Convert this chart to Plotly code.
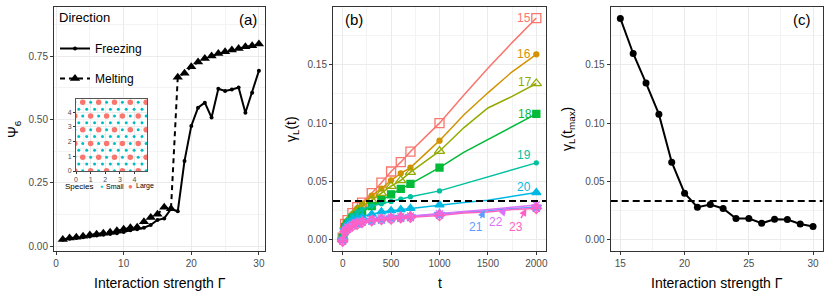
import plotly.graph_objects as go

W, H = 830, 297
FONT = "Liberation Sans, Arial, sans-serif"

# ---------------- Panel (a) data ----------------
gamma_a = list(range(1, 31))
psi_freezing = [0.025, 0.029, 0.032, 0.035, 0.038, 0.041, 0.044, 0.047, 0.050, 0.055,
                0.062, 0.066, 0.072, 0.083, 0.103, 0.109, 0.146, 0.137, 0.336, 0.474,
                0.546, 0.566, 0.507, 0.621, 0.612, 0.618, 0.626, 0.526, 0.605, 0.692]
psi_melting = [0.026, 0.032, 0.035, 0.039, 0.043, 0.046, 0.050, 0.054, 0.060, 0.066,
               0.072, 0.074, 0.096, 0.113, 0.125, 0.153, 0.147, 0.666, 0.682, 0.708,
               0.726, 0.740, 0.750, 0.760, 0.767, 0.774, 0.780, 0.787, 0.791, 0.797]

# inset particle configuration (rows read top to bottom)
inset_row_y = [4.68, 4.21, 3.75, 3.28, 2.81, 2.35, 1.88, 1.41, 0.94, 0.48, 0.01]
inset_even_x = [-0.08, 0.46, 1.00, 1.55, 2.09, 2.63, 3.17, 3.71, 4.25, 4.79]
inset_odd_x = [0.19, 0.73, 1.27, 1.81, 2.35, 2.89, 3.43, 3.97, 4.51]
inset_rows = ["SLSLSLSLSL", "SSSSSSSSS", "LSLSLSLSLS", "SSSSSSSSS",
              "SLSLSLSLSL", "SSSSSSSSS", "LSLSLSLSLS", "SSSSSSSSS",
              "SLSLSLSLSL", "SSSSSSSSS", "LSLSLSLSLS"]

# ---------------- Panel (b) data ----------------
t_vals = [0, 25, 50, 100, 150, 200, 300, 400, 500, 600, 700, 1000, 1250, 1500, 1750, 2000]
t_marks = [0, 25, 50, 100, 150, 200, 300, 400, 500, 600, 700, 1000, 2000]
series_gamma = [15, 16, 17, 18, 19, 20, 21, 22, 23]
gL = {
    15: [0.002, 0.0137, 0.017, 0.023, 0.028, 0.032, 0.040, 0.049, 0.0586, 0.0666, 0.0757, 0.100, 0.124, 0.147, 0.169, 0.190],
    16: [0.002, 0.013, 0.016, 0.022, 0.027, 0.031, 0.038, 0.044, 0.051, 0.057, 0.062, 0.085, 0.107, 0.126, 0.144, 0.159],
    17: [0.002, 0.012, 0.016, 0.021, 0.026, 0.029, 0.034, 0.040, 0.046, 0.051, 0.058, 0.076, 0.096, 0.113, 0.123, 0.134],
    18: [0.002, 0.011, 0.014, 0.019, 0.021, 0.024, 0.029, 0.034, 0.039, 0.0437, 0.048, 0.062, 0.075, 0.086, 0.097, 0.108],
    19: [0.002, 0.013, 0.017, 0.021, 0.024, 0.026, 0.029, 0.031, 0.033, 0.035, 0.037, 0.042, 0.048, 0.054, 0.060, 0.066],
    20: [0.002, 0.011, 0.0137, 0.017, 0.0186, 0.020, 0.022, 0.024, 0.025, 0.026, 0.027, 0.030, 0.032, 0.034, 0.037, 0.0406],
    21: [0.000, 0.008, 0.010, 0.013, 0.0145, 0.016, 0.017, 0.018, 0.019, 0.0195, 0.020, 0.022, 0.024, 0.025, 0.027, 0.028],
    22: [0.000, 0.008, 0.011, 0.0135, 0.015, 0.016, 0.0175, 0.0185, 0.0195, 0.020, 0.0205, 0.0225, 0.024, 0.026, 0.028, 0.030],
    23: [-0.001, 0.007, 0.009, 0.012, 0.0135, 0.015, 0.0165, 0.0175, 0.018, 0.019, 0.0195, 0.021, 0.023, 0.024, 0.026, 0.027],
}
series_colors = ["#F8766D", "#D39200", "#93AA00", "#00BA38", "#00C19F",
                 "#00B9E3", "#619CFF", "#DB72FB", "#FF61C3"]
series_symbols = ["square-open", "circle", "triangle-up-open", "square", "circle",
                  "triangle-up", "star", "asterisk-open", "diamond-cross-open"]
series_msize = [9, 5, 9, 7, 4, 8, 8, 8, 8]
threshold = 0.0334

# label positions for panel (b) (t, value)
label_pos = {15: (1875, 0.190), 16: (1875, 0.159), 17: (1880, 0.135), 18: (1880, 0.108),
             19: (1870, 0.073), 20: (1870, 0.0457)}
arrow_label = {21: (1381, 0.0114, 1467, 0.0257), 22: (1580, 0.0157, 1690, 0.027),
               23: (1794, 0.0114, 1897, 0.027)}

# ---------------- Panel (c) data ----------------
gamma_c = list(range(15, 31))
gL_tmax = [0.1897, 0.1597, 0.1343, 0.1077, 0.0666, 0.0400, 0.0280, 0.0303,
           0.0269, 0.0183, 0.0183, 0.0143, 0.0177, 0.0174, 0.0137, 0.0114]

# ---------------- figure ----------------
fig = go.Figure()

# panel a
fig.add_trace(go.Scatter(x=gamma_a, y=psi_freezing, mode="lines+markers", name="Freezing",
                         line=dict(color="black", width=2), marker=dict(size=4, color="black"),
                         xaxis="x", yaxis="y", legendgroup="f"))
fig.add_trace(go.Scatter(x=gamma_a, y=psi_melting, mode="lines+markers", name="Melting",
                         line=dict(color="black", width=2, dash="5px,4px"),
                         marker=dict(size=9, color="black", symbol="triangle-up"),
                         xaxis="x", yaxis="y", legendgroup="m"))

# inset
sx, sy, lx, ly = [], [], [], []
for yv, row in zip(inset_row_y, inset_rows):
    xs = inset_even_x if len(row) == len(inset_even_x) else inset_odd_x
    for xv, k in zip(xs, row):
        if k == "L":
            lx.append(xv); ly.append(yv)
        else:
            sx.append(xv); sy.append(yv)
fig.add_trace(go.Scatter(x=sx, y=sy, mode="markers", marker=dict(size=3, color="#00BFC4"),
                         xaxis="x4", yaxis="y4", showlegend=False))
fig.add_trace(go.Scatter(x=lx, y=ly, mode="markers", marker=dict(size=5.5, color="#F8766D"),
                         xaxis="x4", yaxis="y4", showlegend=False))

# panel b
mark_idx = [i for i, t in enumerate(t_vals) if t in t_marks]
for g, c, s, ms in zip(series_gamma, series_colors, series_symbols, series_msize):
    fig.add_trace(go.Scatter(x=t_vals, y=gL[g], mode="lines", line=dict(color=c, width=1.5),
                             xaxis="x2", yaxis="y2", showlegend=False))
    fig.add_trace(go.Scatter(x=[t_vals[i] for i in mark_idx], y=[gL[g][i] for i in mark_idx],
                             mode="markers",
                             marker=dict(symbol=s, size=ms, color=c, line=dict(color=c, width=1.3)),
                             xaxis="x2", yaxis="y2", showlegend=False))
fig.add_trace(go.Scatter(x=[-100, 2100], y=[threshold, threshold], mode="lines",
                         line=dict(color="black", width=2, dash="7px,4px"),
                         xaxis="x2", yaxis="y2", showlegend=False))

# panel c
fig.add_trace(go.Scatter(x=gamma_c, y=gL_tmax, mode="lines+markers",
                         line=dict(color="black", width=2), marker=dict(size=7, color="black"),
                         xaxis="x3", yaxis="y3", showlegend=False))
fig.add_trace(go.Scatter(x=[14.25, 30.75], y=[threshold, threshold], mode="lines",
                         line=dict(color="black", width=2, dash="7px,4px"),
                         xaxis="x3", yaxis="y3", showlegend=False))

ybot, ytop = 1 - 251 / H, 1 - 7 / H
GRID = "#EBEBEB"
TICKF = dict(family=FONT, size=10, color="#4D4D4D")


def ax(domain, rng, tickvals, minor_vals, anchor, ticktext=None, **kw):
    d = dict(domain=domain, range=rng, tickvals=tickvals, anchor=anchor, automargin=False,
             showgrid=True, gridcolor=GRID, gridwidth=1,
             minor=dict(tickvals=minor_vals, showgrid=True, gridcolor="#F3F3F3", gridwidth=0.6,
                        ticks=""),
             showline=True, mirror=True, linecolor="#333333", linewidth=1,
             ticks="outside", ticklen=3, tickcolor="#333333", tickwidth=1,
             tickfont=TICKF, zeroline=False, fixedrange=True)
    if ticktext is not None:
        d["ticktext"] = ticktext
    d.update(kw)
    return d


layout = dict(
    width=W, height=H, margin=dict(l=0, r=0, t=0, b=0, autoexpand=False),
    paper_bgcolor="white", plot_bgcolor="white",
    font=dict(family=FONT, color="black"),
    xaxis=ax([54 / W, 265 / W], [-0.3, 30.9], [0, 10, 20, 30], [5, 15, 25], "y"),
    yaxis=ax([ybot, ytop], [-0.0197, 0.9435], [0, 0.25, 0.5, 0.75], [0.125, 0.375, 0.625, 0.875],
             "x", ticktext=["0.00", "0.25", "0.50", "0.75"]),
    xaxis2=ax([333 / W, 546 / W], [-100, 2100], [0, 500, 1000, 1500, 2000],
              [250, 750, 1250, 1750], "y2"),
    yaxis2=ax([ybot, ytop], [-0.0095, 0.1995], [0, 0.05, 0.1, 0.15], [0.025, 0.075, 0.125, 0.175],
              "x2", ticktext=["0.00", "0.05", "0.10", "0.15"]),
    xaxis3=ax([610.7 / W, 822.7 / W], [14.25, 30.75], [15, 20, 25, 30], [17.5, 22.5, 27.5], "y3"),
    yaxis3=ax([ybot, ytop], [-0.0095, 0.1995], [0, 0.05, 0.1, 0.15], [0.025, 0.075, 0.125, 0.175],
              "x3", ticktext=["0.00", "0.05", "0.10", "0.15"]),
    xaxis4=ax([76 / W, 147 / W], [0, 4.85], [0, 1, 2, 3, 4], [0.5, 1.5, 2.5, 3.5, 4.5], "y4",
              tickfont=dict(family=FONT, size=7, color="#4D4D4D"), ticklen=2, linecolor="#555555"),
    yaxis4=ax([1 - 171 / H, 1 - 99 / H], [0, 4.9], [0, 1, 2, 3, 4], [0.5, 1.5, 2.5, 3.5, 4.5], "x4",
              tickfont=dict(family=FONT, size=7, color="#4D4D4D"), ticklen=2, linecolor="#555555"),
    showlegend=True,
    legend=dict(x=55 / W, y=1 - 34 / H, xanchor="left", yanchor="top",
                bgcolor="rgba(0,0,0,0)", tracegroupgap=11,
                font=dict(family=FONT, size=12, color="black"), itemwidth=30),
)
fig.update_layout(**layout)

ann = []


def A(text, x, y, size, color="black", xanchor="center", **kw):
    d = dict(text=text, x=x, y=y, xref="paper", yref="paper", xanchor=xanchor, yanchor="middle",
             showarrow=False, font=dict(size=size, family=FONT, color=color))
    d.update(kw)
    return d


# legend title
ann.append(A("Direction", 57 / W, 1 - 18 / H, 13, xanchor="left"))
# panel tags
for txt, xp in [("(a)", 248), ("(b)", 354), ("(c)", 802)]:
    ann.append(A(txt, xp / W, 1 - 19 / H, 15))
# axis titles
for txt, xp in [("Interaction strength Γ", 160), ("t", 440), ("Interaction strength Γ", 717)]:
    ann.append(A(txt, xp / W, 1 - 283 / H, 14))
for txt, xp in [("Ψ<sub>6</sub>", 14), ("γ<sub>L</sub>(t)", 292), ("γ<sub>L</sub>(t<sub>max</sub>)", 568)]:
    ann.append(A(txt, xp / W, (ybot + ytop) / 2, 14, textangle=-90))
# inset legend
ann.append(A("Species", 63 / W, 1 - 186 / H, 8, xanchor="left"))
ann.append(A("●", 101 / W, 1 - 186 / H, 5, color="#00BFC4"))
ann.append(A("Small", 104 / W, 1 - 186 / H, 7, xanchor="left"))
ann.append(A("●", 130 / W, 1 - 186 / H, 8, color="#F8766D"))
ann.append(A("Large", 134 / W, 1 - 186 / H, 7, xanchor="left"))
# series labels panel b
for g, c in zip(series_gamma, series_colors):
    if g in label_pos:
        tx, ty = label_pos[g]
        ann.append(dict(text=str(g), x=tx, y=ty, xref="x2", yref="y2", showarrow=False,
                        xanchor="center", yanchor="middle",
                        font=dict(size=12, family=FONT, color=c)))
    else:
        lxp, lyp, hx, hy = arrow_label[g]
        ann.append(dict(text=str(g), x=hx, y=hy, xref="x2", yref="y2", ax=lxp, ay=lyp,
                        axref="x2", ayref="y2", showarrow=True, arrowhead=2, arrowsize=1,
                        arrowwidth=1.5, arrowcolor=c, standoff=0,
                        font=dict(size=12, family=FONT, color=c)))
fig.update_layout(annotations=ann)

fig.write_html("out.html", config={"displayModeBar": False},
               post_script="document.body.style.margin='0';document.body.style.overflow='hidden';")
